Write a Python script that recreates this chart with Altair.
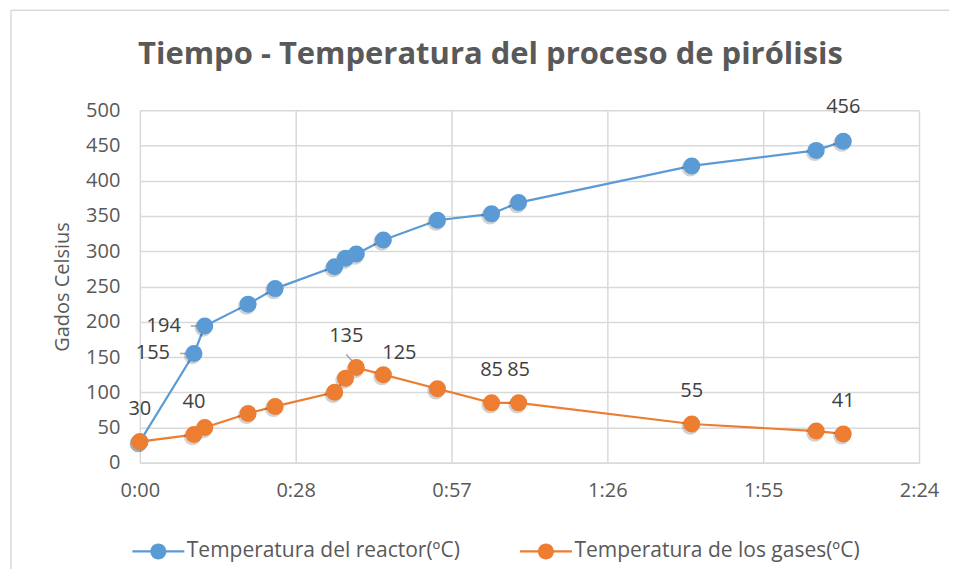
import altair as alt
import pandas as pd

# ---- data ----
time_min = [0, 10, 12, 20, 25, 36, 38, 40, 45, 55, 65, 70, 102, 125, 130]
reactor = [30, 155, 194, 225, 247, 278, 290, 296, 316, 344, 353, 369, 421, 443, 456]
gases = [30, 40, 50, 70, 80, 100, 120, 135, 125, 105, 85, 85, 55, 45, 41]
series_names = ["Temperatura del reactor(ºC)", "Temperatura de los gases(ºC)"]
colors = ["#5B9BD5", "#ED7D31"]
x_ticks = [0, 28.8, 57.6, 86.4, 115.2, 144]
y_ticks = [0, 50, 100, 150, 200, 250, 300, 350, 400, 450, 500]
title_text = "Tiempo - Temperatura del proceso de pirólisis"
y_title = "Gados Celsius"

# label groups (times of labelled points)
reactor_left = [10, 12]
reactor_above = [130]
gases_above = [0, 10, 65, 70, 102, 130]
gases_peak = [40]
gases_after = [45]

rows = []
for t, r, g in zip(time_min, reactor, gases):
    rows.append({"t": t, "v": r, "s": series_names[0]})
    rows.append({"t": t, "v": g, "s": series_names[1]})
df = pd.DataFrame(rows)

FONT = "Open Sans"
GRID = "#d9d9d9"
TXT = "#595959"
LBL = "#404040"

def sel(name, times):
    return f"datum.s === '{name}' && indexof({list(times)}, datum.t) >= 0"

xenc = alt.X("t:Q", scale=alt.Scale(domain=[0, 144], nice=False),
             axis=alt.Axis(values=x_ticks, title=None, labelFlush=False, labelOverlap=False,
                           labelExpr="floor(datum.value/60) + ':' + (floor(datum.value%60) < 10 ? '0' : '') + floor(datum.value%60)"))
yenc = alt.Y("v:Q", scale=alt.Scale(domain=[0, 500], nice=False),
             axis=alt.Axis(values=y_ticks, title=y_title, labelOverlap=False, labelFlush=False))
cscale = alt.Scale(domain=series_names, range=colors)
cenc = alt.Color("s:N", scale=cscale, sort=series_names,
                 legend=alt.Legend(title=None, orient="none", direction="horizontal",
                                   legendX=8, legendY=431, symbolType="M-3.25,-0.14H3.25V0.14H-3.25Z M1,0A1,1,0,1,1,-1,0A1,1,0,1,1,1,0Z",
                                   symbolSize=256, symbolStrokeWidth=0,
                                   labelFont=FONT, labelFontSize=21, labelColor=TXT,
                                   labelLimit=500, labelOffset=18, columnPadding=59,
                                   padding=0))

base = alt.Chart(df)
one = alt.Chart(pd.DataFrame({"a": [0]}))

border_top = one.mark_rule(color=GRID, strokeWidth=1.5).encode(
    x=alt.value(-129), x2=alt.value(900), y=alt.value(-100))
border_left = one.mark_rule(color=GRID, strokeWidth=1.5).encode(
    x=alt.value(-129), y=alt.value(-100), y2=alt.value(600))

title = one.mark_text(
    text=title_text, font=FONT, fontSize=31, fontWeight="bold", color=TXT,
    align="center", baseline="middle"
).encode(x=alt.value(351), y=alt.value(-55))

lines = base.mark_line(strokeWidth=2.2).encode(x=xenc, y=yenc, color=cenc, order="t:Q")

shadow = base.mark_circle(size=300, color="#000000", opacity=0.18, xOffset=-1.5, yOffset=2).encode(
    x=xenc, y=yenc)

points = base.mark_circle(size=290, opacity=1).encode(x=xenc, y=yenc, color=cenc)

tstyle = dict(font=FONT, fontSize=20, color=LBL)

lab_left = base.transform_filter(sel(series_names[0], reactor_left)).mark_text(
    align="right", baseline="middle", dx=-24, **tstyle).encode(x=xenc, y=yenc, text="v:Q")
lab_above_r = base.transform_filter(sel(series_names[0], reactor_above)).mark_text(
    align="center", baseline="middle", dy=-34, **tstyle).encode(x=xenc, y=yenc, text="v:Q")
lab_above_g = base.transform_filter(sel(series_names[1], gases_above)).mark_text(
    align="center", baseline="middle", dy=-33, **tstyle).encode(x=xenc, y=yenc, text="v:Q")
lab_peak = base.transform_filter(sel(series_names[1], gases_peak)).mark_text(
    align="center", baseline="middle", dx=-10, dy=-32, **tstyle).encode(x=xenc, y=yenc, text="v:Q")
lab_after = base.transform_filter(sel(series_names[1], gases_after)).mark_text(
    align="center", baseline="middle", dx=16, dy=-22, **tstyle).encode(x=xenc, y=yenc, text="v:Q")

lead_left = base.transform_filter(sel(series_names[0], reactor_left)).mark_rule(
    color="#a6a6a6", strokeWidth=1.5, xOffset=-14, x2Offset=-3).encode(
    x=xenc, x2="t:Q", y=yenc, y2="v:Q")
lead_peak = base.transform_filter(sel(series_names[1], gases_peak)).mark_rule(
    color="#a6a6a6", strokeWidth=1.5, xOffset=-10, x2Offset=-1, yOffset=-13, y2Offset=-3).encode(
    x=xenc, x2="t:Q", y=yenc, y2="v:Q")

chart = alt.layer(
    border_top, border_left, title, lines, lead_left, lead_peak, shadow, points,
    lab_left, lab_above_r, lab_above_g, lab_peak, lab_after
).properties(
    width=780, height=353,
    padding={"left": 132, "top": 102, "right": 30, "bottom": 106},
    autosize=alt.AutoSizeParams(type="none"),
).configure_view(stroke=None).configure_axis(
    grid=True, gridColor=GRID, gridWidth=1.5, ticks=False,
    labelFont=FONT, labelFontSize=20, labelColor=TXT,
    titleFont=FONT, titleFontSize=20, titleColor=TXT, titleFontWeight="normal",
).configure_axisX(domainColor=GRID, domainWidth=1.5, labelPadding=18
).configure_axisY(domain=False, labelPadding=20, titlePadding=13)

chart.save("out.html", embed_options={"renderer": "svg", "actions": False})
